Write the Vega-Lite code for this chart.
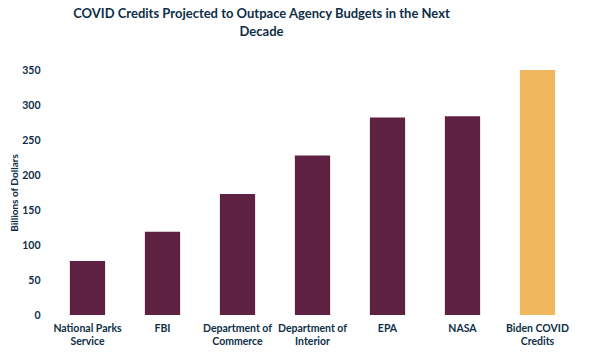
{
  "$schema": "https://vega.github.io/schema/vega-lite/v6.json",
  "autosize": {"type": "none"},
  "padding": {"left": 50, "top": 70, "right": 20, "bottom": 37},
  "width": 525,
  "height": 245,
  "background": "white",
  "title": {
    "text": ["COVID Credits Projected to Outpace Agency Budgets in the Next", "Decade"],
    "anchor": "middle",
    "frame": "group",
    "dx": -51,
    "offset": 26,
    "font": "Lato",
    "fontSize": 13,
    "fontWeight": "bold",
    "color": "#0E2F47",
    "lineHeight": 18
  },
  "data": {
    "values": [
      {"agency": "National Parks Service", "value": 77, "group": "Agency"},
      {"agency": "FBI", "value": 119, "group": "Agency"},
      {"agency": "Department of Commerce", "value": 173, "group": "Agency"},
      {"agency": "Department of Interior", "value": 228, "group": "Agency"},
      {"agency": "EPA", "value": 282, "group": "Agency"},
      {"agency": "NASA", "value": 284, "group": "Agency"},
      {"agency": "Biden COVID Credits", "value": 350, "group": "COVID"}
    ]
  },
  "mark": {"type": "bar"},
  "encoding": {
    "x": {
      "field": "agency",
      "type": "nominal",
      "sort": null,
      "scale": {"paddingInner": 0.53, "paddingOuter": 0.265},
      "axis": {
        "title": null,
        "labelAngle": 0,
        "domain": false,
        "ticks": false,
        "labelPadding": 8,
        "labelFont": "Lato",
        "labelFontSize": 10.5,
        "labelFontWeight": "bold",
        "labelColor": "#0E2F47",
        "labelLineHeight": 13.5,
        "labelExpr": "datum.value == 'National Parks Service' ? ['National Parks', 'Service'] : datum.value == 'Department of Commerce' ? ['Department of', 'Commerce'] : datum.value == 'Department of Interior' ? ['Department of', 'Interior'] : datum.value == 'Biden COVID Credits' ? ['Biden COVID', 'Credits'] : datum.value"
      }
    },
    "y": {
      "field": "value",
      "type": "quantitative",
      "scale": {"domain": [0, 350], "nice": false},
      "axis": {
        "title": "Billions of Dollars",
        "values": [0, 50, 100, 150, 200, 250, 300, 350],
        "grid": false,
        "domain": false,
        "ticks": false,
        "labelPadding": 10,
        "labelFont": "Lato",
        "labelFontSize": 10.5,
        "labelFontWeight": "bold",
        "labelColor": "#0E2F47",
        "titleFont": "Lato",
        "titleFontSize": 10,
        "titleFontWeight": "bold",
        "titleColor": "#0E2F47",
        "titlePadding": 2
      }
    },
    "color": {
      "field": "group",
      "type": "nominal",
      "scale": {"domain": ["Agency", "COVID"], "range": ["#5F2141", "#EFB75F"]},
      "legend": null
    }
  },
  "config": {"view": {"stroke": null}}
}
